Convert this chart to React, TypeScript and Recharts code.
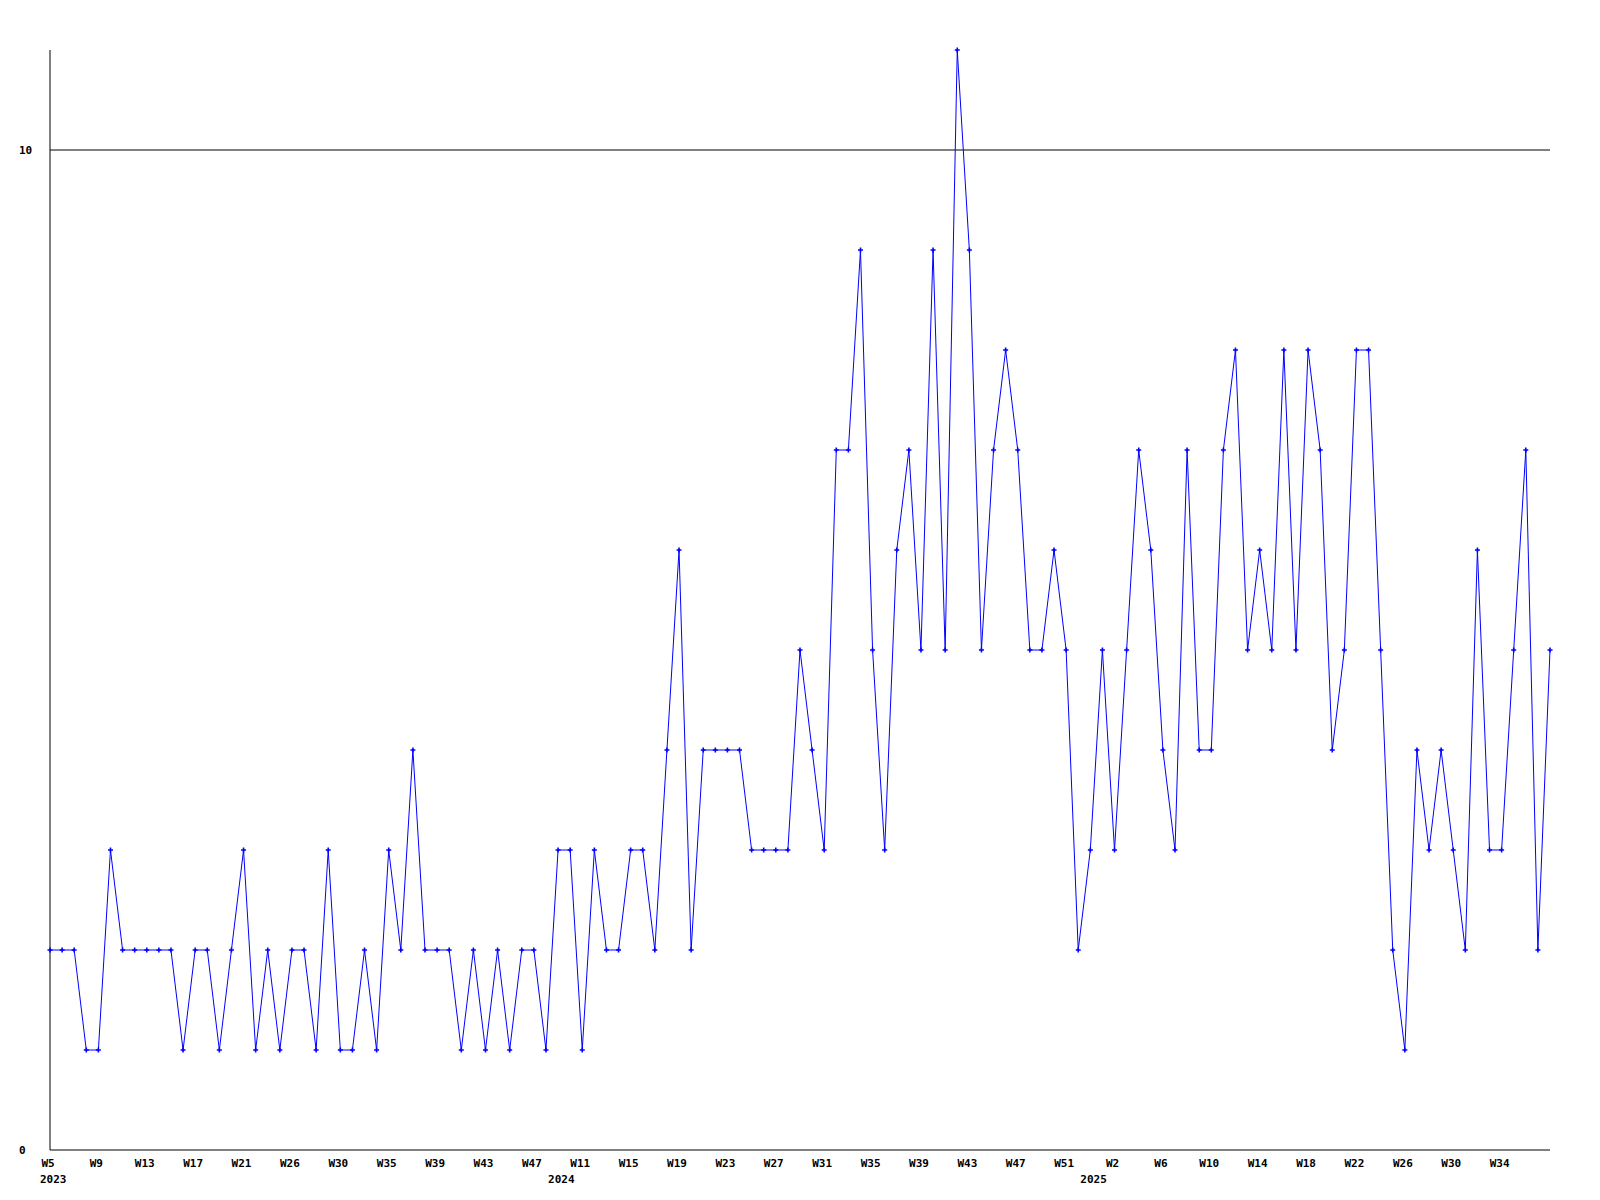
import { LineChart, Line, XAxis, YAxis, ReferenceLine } from 'recharts'

// week numbers per year, in the order they appear on the axis
const WEEKS_2023 = [5, 6, 7, 8, 9, 10, 11, 12, 13, 14, 15, 16, 17, 18, 19, 20, 21, 22, 23, 24, 26, 27, 28, 29, 30, 31, 32, 33, 35, 36, 37, 38, 39, 40, 41, 42, 43, 44, 45, 46, 47, 48]
const WEEKS_2024 = [9, 10, 11, 12, 13, 14, 15, 16, 17, 18, 19, 20, 21, 22, 23, 24, 25, 26, 27, 28, 29, 30, 31, 32, 33, 34, 35, 36, 37, 38, 39, 40, 41, 42, 43, 44, 45, 46, 47, 48, 49, 50, 51, 52]
const WEEKS_2025 = [0, 1, 2, 3, 4, 5, 6, 7, 8, 9, 10, 11, 12, 13, 14, 15, 16, 17, 18, 19, 20, 21, 22, 23, 24, 25, 26, 27, 28, 29, 30, 31, 32, 33, 34, 35, 36, 37, 38]

const COUNTS_2023 = [2, 2, 2, 1, 1, 3, 2, 2, 2, 2, 2, 1, 2, 2, 1, 2, 3, 1, 2, 1, 2, 2, 1, 3, 1, 1, 2, 1, 3, 2, 4, 2, 2, 2, 1, 2, 1, 2, 1, 2, 2, 1]
const COUNTS_2024 = [3, 3, 1, 3, 2, 2, 3, 3, 2, 4, 6, 2, 4, 4, 4, 4, 3, 3, 3, 3, 5, 4, 3, 7, 7, 9, 5, 3, 6, 7, 5, 9, 5, 11, 9, 5, 7, 8, 7, 5, 5, 6, 5, 2]
const COUNTS_2025 = [3, 5, 3, 5, 7, 6, 4, 3, 7, 4, 4, 7, 8, 5, 6, 5, 8, 5, 8, 7, 4, 5, 8, 8, 5, 2, 1, 4, 3, 4, 3, 2, 6, 3, 3, 5, 7, 2, 5]

const Y_TICKS = [0, 10]

const YEARS = [
  { year: 2023, weeks: WEEKS_2023, counts: COUNTS_2023 },
  { year: 2024, weeks: WEEKS_2024, counts: COUNTS_2024 },
  { year: 2025, weeks: WEEKS_2025, counts: COUNTS_2025 },
]

const data = YEARS.flatMap(({ year, weeks, counts }) =>
  weeks.map((w, i) => ({ key: `${year}-W${w}`, week: `W${w}`, year, first: i === 0, count: counts[i] }))
)
const byKey = new Map(data.map((d, i) => [d.key, { ...d, index: i }]))
const LAST = data.length - 1

const BLUE = '#0000ff'
const FONT = '"DejaVu Sans Mono", monospace'

function WeekTick(props: any) {
  const { x, y, payload } = props
  const d = byKey.get(payload.value)
  if (!d) return null
  return (
    <g>
      {/* every 4th week, but the last point gets no label */}
      {d.index % 4 === 0 && d.index !== LAST && (
        <text x={x - 2} y={y + 9} textAnchor="middle" fontFamily={FONT} fontWeight="bold" fontSize={11} fill="#000">
          {d.week}
        </text>
      )}
      {d.first && (
        <text x={x - 10} y={y + 25} textAnchor="start" fontFamily={FONT} fontWeight="bold" fontSize={11} fill="#000">
          {d.year}
        </text>
      )}
    </g>
  )
}

function CountTick(props: any) {
  const { y, payload } = props
  return (
    <text x={19} y={y + 4} textAnchor="start" fontFamily={FONT} fontWeight="bold" fontSize={11} fill="#000">
      {payload.value}
    </text>
  )
}

function PlusDot(props: any) {
  const { cx, cy, index } = props
  if (cx == null || cy == null) return <g key={index} />
  return (
    <path
      key={index}
      d={`M${cx - 2.5},${cy}H${cx + 2.5}M${cx},${cy - 2.5}V${cy + 2.5}`}
      stroke={BLUE}
      strokeWidth={1.6}
      fill="none"
    />
  )
}

export default function App() {
  return (
    <div style={{ position: 'absolute', left: 0, top: 0, width: 1600, height: 1200, background: '#fff' }}>
      <LineChart width={1600} height={1200} data={data} margin={{ top: 50, right: 50, bottom: 0, left: 0 }}>
        <XAxis
          dataKey="key"
          type="category"
          interval={0}
          height={50}
          tickLine={false}
          axisLine={{ stroke: '#000', strokeWidth: 1 }}
          tick={<WeekTick />}
        />
        <YAxis
          domain={[0, 11]}
          ticks={Y_TICKS}
          width={50}
          tickLine={false}
          axisLine={{ stroke: '#000', strokeWidth: 1 }}
          tick={<CountTick />}
        />
        <ReferenceLine y={10} stroke="#000" strokeWidth={1} />
        <Line
          type="linear"
          dataKey="count"
          stroke={BLUE}
          strokeWidth={1}
          dot={(p: any) => <PlusDot {...p} />}
          activeDot={false}
          isAnimationActive={false}
        />
      </LineChart>
    </div>
  )
}
